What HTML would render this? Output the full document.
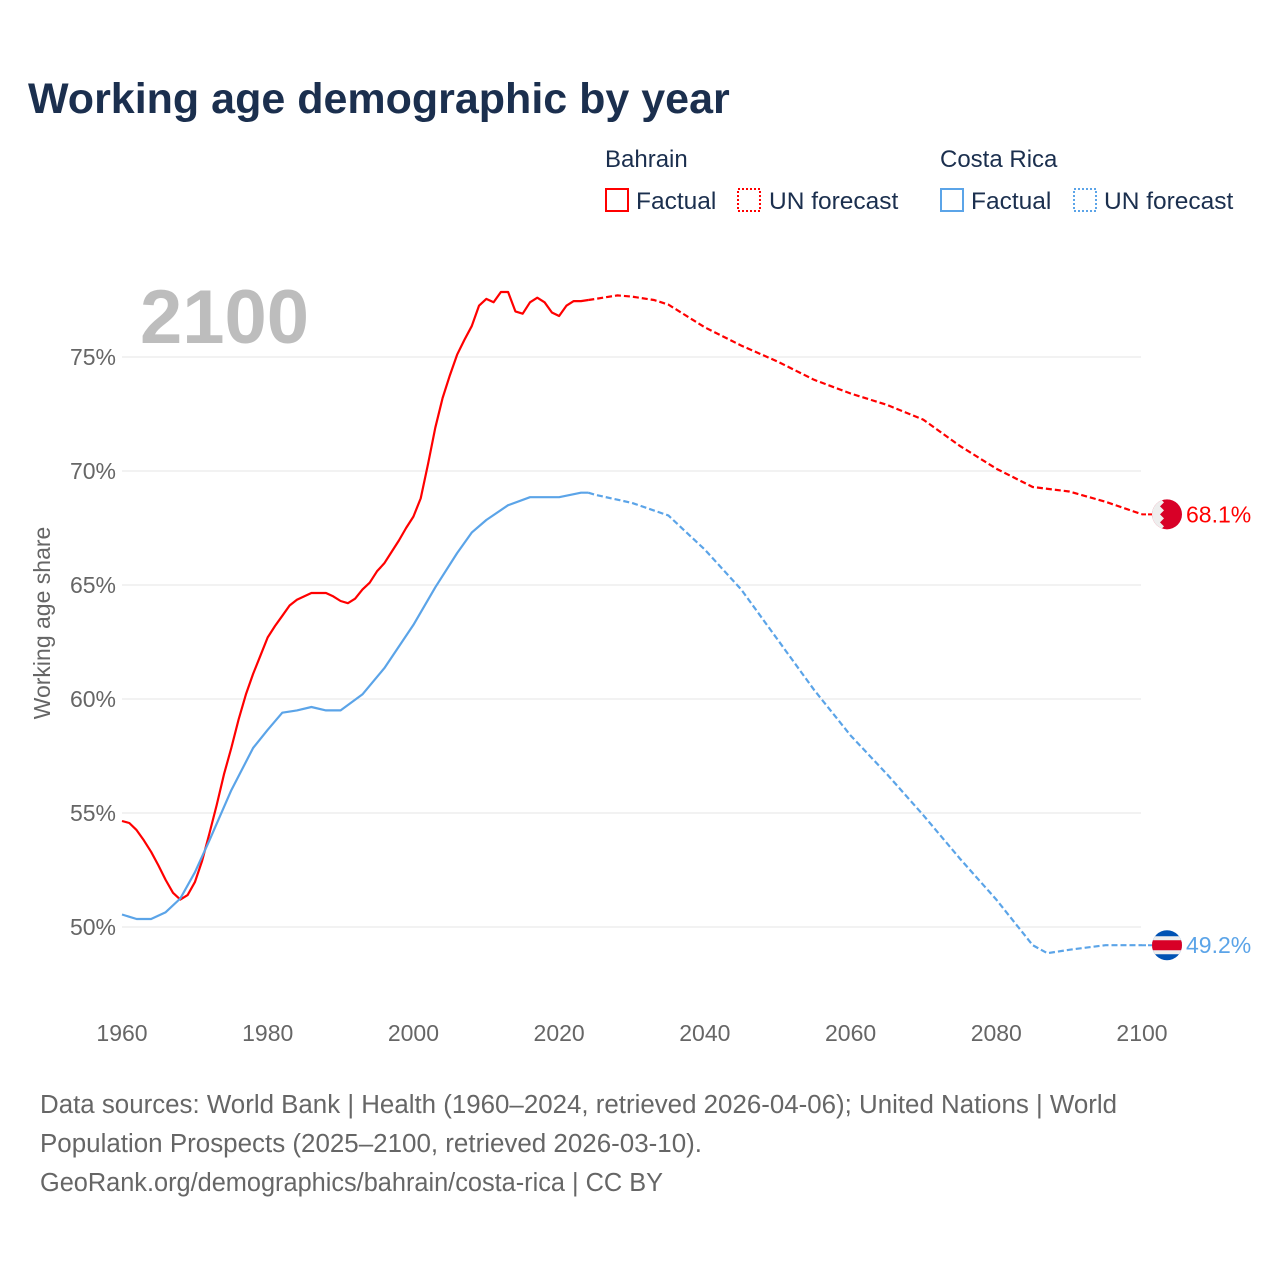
<!DOCTYPE html>
<html><head><meta charset="utf-8">
<style>
body{margin:0;background:#fff;font-family:"Liberation Sans",sans-serif;}
svg text{font-family:"Liberation Sans",sans-serif;}
</style></head>
<body>
<svg width="1280" height="1280" viewBox="0 0 1280 1280" xmlns="http://www.w3.org/2000/svg">
<text x="28" y="113" font-size="43" font-weight="bold" fill="#1b2f4e">Working age demographic by year</text>
<g>
<text x="605" y="167" font-size="24" fill="#1b2f4e">Bahrain</text>
<text x="940" y="167" font-size="24" fill="#1b2f4e">Costa Rica</text>
<rect x="606" y="189" width="22" height="22" fill="none" stroke="#ff0000" stroke-width="2"/>
<text x="636" y="209" font-size="24.5" fill="#1b2f4e">Factual</text>
<rect x="738" y="189" width="22" height="22" fill="none" stroke="#ff0000" stroke-width="2" stroke-dasharray="2,2"/>
<text x="769" y="209" font-size="24.5" fill="#1b2f4e">UN forecast</text>
<rect x="941" y="189" width="22" height="22" fill="none" stroke="#5ba4e8" stroke-width="2"/>
<text x="971" y="209" font-size="24.5" fill="#1b2f4e">Factual</text>
<rect x="1074" y="189" width="22" height="22" fill="none" stroke="#5ba4e8" stroke-width="2" stroke-dasharray="2,2"/>
<text x="1104" y="209" font-size="24.5" fill="#1b2f4e">UN forecast</text>
</g>
<text x="140" y="343" font-size="76" font-weight="bold" fill="#bdbdbd">2100</text>
<text transform="translate(50,623) rotate(-90)" text-anchor="middle" font-size="23" fill="#666">Working age share</text>
<g id="grid"></g><g id="xticks"></g><g id="lines"></g><g id="ends"></g>
<g font-size="25.5" fill="#666">
<text x="40" y="1113" textLength="1077" lengthAdjust="spacingAndGlyphs">Data sources: World Bank | Health (1960–2024, retrieved 2026-04-06); United Nations | World</text>
<text x="40" y="1152" textLength="662" lengthAdjust="spacingAndGlyphs">Population Prospects (2025–2100, retrieved 2026-03-10).</text>
<text x="40" y="1191" textLength="623" lengthAdjust="spacingAndGlyphs">GeoRank.org/demographics/bahrain/costa-rica | CC BY</text>
</g>
</svg>
<script>
const yTicks=[50,55,60,65,70,75];
const xTicks=[1960,1980,2000,2020,2040,2060,2080,2100];
const bhYears=[1960,1961,1962,1963,1964,1965,1966,1967,1968,1969,1970,1971,1972,1973,1974,1975,1976,1977,1978,1979,1980,1981,1982,1983,1984,1985,1986,1987,1988,1989,1990,1991,1992,1993,1994,1995,1996,1997,1998,1999,2000,2001,2002,2003,2004,2005,2006,2007,2008,2009,2010,2011,2012,2013,2014,2015,2016,2017,2018,2019,2020,2021,2022,2023,2024];
const bhValues=[54.65,54.56,54.25,53.8,53.3,52.7,52.06,51.5,51.2,51.4,51.97,52.9,54.1,55.35,56.7,57.85,59.1,60.2,61.1,61.9,62.7,63.2,63.65,64.1,64.35,64.5,64.65,64.65,64.65,64.5,64.3,64.2,64.4,64.8,65.1,65.6,65.95,66.45,66.95,67.5,68.0,68.8,70.3,71.9,73.2,74.2,75.1,75.75,76.35,77.25,77.55,77.4,77.85,77.85,77.0,76.9,77.4,77.6,77.4,76.95,76.8,77.25,77.45,77.45,77.5];
const bhFYears=[2024,2025,2028,2030,2033,2035,2040,2045,2050,2055,2060,2065,2070,2075,2080,2085,2090,2095,2100];
const bhFValues=[77.5,77.55,77.7,77.65,77.5,77.3,76.3,75.5,74.8,74.0,73.4,72.9,72.25,71.1,70.1,69.3,69.1,68.65,68.1];
const crYears=[1960,1962,1964,1966,1968,1970,1972,1975,1978,1980,1982,1984,1986,1988,1990,1993,1996,2000,2003,2006,2008,2010,2013,2016,2020,2023,2024];
const crValues=[50.55,50.35,50.35,50.65,51.25,52.4,53.8,56.0,57.85,58.65,59.4,59.5,59.65,59.5,59.5,60.2,61.35,63.25,64.9,66.4,67.3,67.85,68.5,68.85,68.85,69.05,69.05];
const crFYears=[2024,2025,2030,2035,2040,2045,2050,2055,2060,2065,2070,2075,2080,2085,2087,2090,2095,2100];
const crFValues=[69.05,68.95,68.6,68.05,66.55,64.8,62.6,60.4,58.4,56.7,54.9,53.0,51.2,49.2,48.85,49.0,49.2,49.2];
const NS="http://www.w3.org/2000/svg";
const X=y=>122+(y-1960)*1020/140;
const Y=v=>927-(v-50)*22.8;
function mk(tag,attrs,parent){const e=document.createElementNS(NS,tag);for(const k in attrs)e.setAttribute(k,attrs[k]);document.getElementById(parent).appendChild(e);return e;}
yTicks.forEach(t=>{
 const l=mk('line',{x1:122,x2:1141,y1:Y(t),y2:Y(t),stroke:'#e6e6e6','stroke-width':1},'grid');
 
 
 const tx=mk('text',{x:116,y:Y(t)+8,'text-anchor':'end','font-size':23,fill:'#666'},'grid');
 tx.textContent=t+'%';
 
 
});
xTicks.forEach(t=>{
 const tx=mk('text',{x:X(t),y:1041,'text-anchor':'middle','font-size':23,fill:'#666'},'xticks');
 tx.textContent=t;
 
 
});
function path(ys,vs){return ys.map((y,i)=>(i?'L':'M')+X(y).toFixed(1)+','+Y(vs[i]).toFixed(1)).join('');}
const s1=mk('path',{d:path(bhYears,bhValues),fill:'none',stroke:'#ff0000','stroke-width':2.2,'stroke-linejoin':'round'},'lines');


const s2=mk('path',{d:path(bhFYears,bhFValues),fill:'none',stroke:'#ff0000','stroke-width':2.2,'stroke-dasharray':'6,3'},'lines');


const s3=mk('path',{d:path(crYears,crValues),fill:'none',stroke:'#5ba4e8','stroke-width':2.2,'stroke-linejoin':'round'},'lines');


const s4=mk('path',{d:path(crFYears,crFValues),fill:'none',stroke:'#5ba4e8','stroke-width':2.2,'stroke-dasharray':'6,3'},'lines');


const bv=bhFValues[bhFValues.length-1], cv=crFValues[crFValues.length-1];
const by=Y(bv), cy=Y(cv);
let e;
e=mk('line',{x1:1142,x2:1152,y1:by,y2:by,stroke:'#ff0000','stroke-width':2,'stroke-dasharray':'4,2'},'ends');


e=mk('line',{x1:1142,x2:1152,y1:cy,y2:cy,stroke:'#5ba4e8','stroke-width':2,'stroke-dasharray':'4,2'},'ends');


const fb=mk('g',{},'ends');


fb.innerHTML=`<clipPath id="cb"><circle cx="1167" cy="${by}" r="15"/></clipPath><g clip-path="url(#cb)"><rect x="1150" y="${by-16}" width="36" height="32" fill="#d80027"/><path d="M1150,${by-16}H1160L1164,${by-12}L1160,${by-8}L1164,${by-4}L1160,${by}L1164,${by+4}L1160,${by+8}L1164,${by+12}L1160,${by+16}H1150Z" fill="#eee"/></g>`;
const fc=mk('g',{},'ends');


fc.innerHTML=`<clipPath id="cc"><circle cx="1167" cy="${cy}" r="15"/></clipPath><g clip-path="url(#cc)"><rect x="1150" y="${cy-16}" width="36" height="32" fill="#0052b4"/><rect x="1150" y="${cy-9}" width="36" height="18" fill="#eee"/><rect x="1150" y="${cy-5}" width="36" height="10" fill="#d80027"/></g>`;
e=mk('text',{x:1186,y:by+8,'font-size':23,fill:'#ff0000'},'ends');
e.textContent=bv.toFixed(1)+'%';


e=mk('text',{x:1186,y:cy+8,'font-size':23,fill:'#5ba4e8'},'ends');
e.textContent=cv.toFixed(1)+'%';


</script>
</body></html>
